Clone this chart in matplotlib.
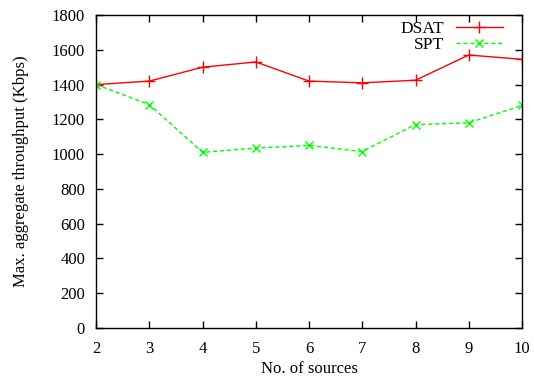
import matplotlib
matplotlib.use("Agg")
import matplotlib.pyplot as plt

sources = [2, 3, 4, 5, 6, 7, 8, 9, 10]
dsat = [1400, 1420, 1500, 1530, 1420, 1410, 1425, 1570, 1545]
spt = [1400, 1285, 1010, 1035, 1050, 1015, 1170, 1180, 1280]

plt.rcParams["font.family"] = ["Liberation Serif", "DejaVu Serif"]
plt.rcParams["font.size"] = 12

fig = plt.figure(figsize=(5.34, 3.81), dpi=100)
ax = fig.add_axes([0.18, 0.139, 0.7975, 0.8216])

ax.plot(sources, dsat, color="#ff0000", lw=1, marker="+", ms=8, mew=1,
        label="DSAT")
ax.plot(sources, spt, color="#00ff00", lw=1, ls=(0, (3, 2)), marker="x",
        ms=6, mew=1, label="SPT")

ax.set_xlim(2, 10)
ax.set_ylim(0, 1800)
ax.set_xticks(sources)
ax.set_yticks(range(0, 1801, 200))
ax.tick_params(direction="in", top=True, right=True, length=5, width=1,
               labelsize=12)
ax.tick_params(axis="y", pad=8)
ax.tick_params(axis="x", pad=9)
for s in ax.spines.values():
    s.set_linewidth(1)

ax.set_xlabel("No. of sources", fontsize=12)
ax.set_ylabel("Max. aggregate throughput (Kbps)", fontsize=12)
ax.xaxis.set_label_coords(0.5, -0.105)
ax.yaxis.set_label_coords(-0.157, 0.5)

ax.legend(loc="upper right", bbox_to_anchor=(0.975, 1.01), markerfirst=False,
          frameon=False, handlelength=2.7, handletextpad=0.7,
          borderaxespad=0.1, labelspacing=0.0, fontsize=12.5)

fig.savefig("out.png", dpi=100)
